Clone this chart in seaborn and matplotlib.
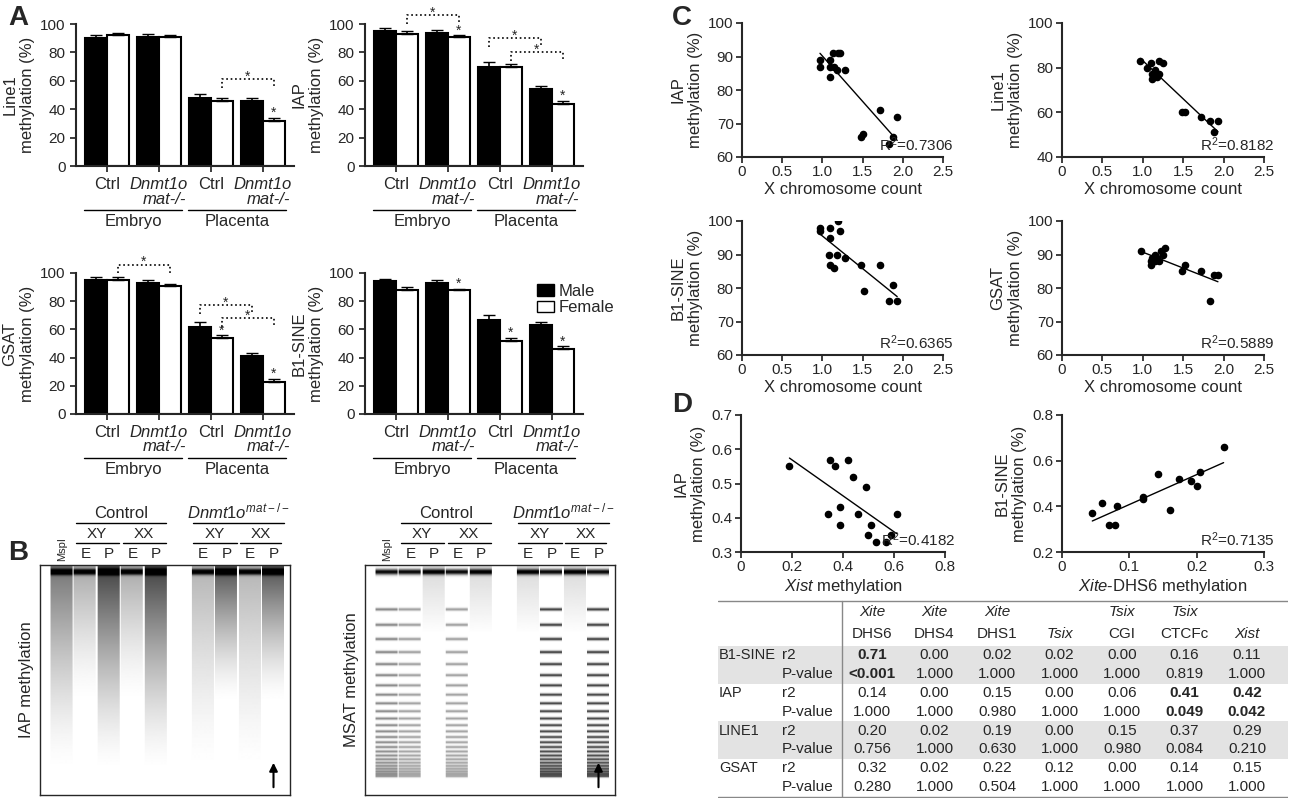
import numpy as np
import pandas as pd
import matplotlib
matplotlib.use("Agg")
import matplotlib.pyplot as plt
import seaborn as sns
from matplotlib.patches import Patch

sns.set_theme(style="ticks")
plt.rcParams['font.family'] = ['Liberation Sans', 'DejaVu Sans']
plt.rcParams['mathtext.fontset'] = 'custom'
plt.rcParams['mathtext.rm'] = 'Liberation Sans'
plt.rcParams['mathtext.it'] = 'Liberation Sans:italic'

W, H = 1293, 800
fig = plt.figure(figsize=(W/100, H/100), dpi=100)
FS = 11

def ax_px(x0, y0, x1, y1):
    return fig.add_axes([x0/W, 1-y1/H, (x1-x0)/W, (y1-y0)/H])

# ---------------- Panel A data ----------------
group_names = ["Ctrl", "Dnmt1o", "Ctrl", "Dnmt1o"]
line1_m = [90, 91, 48, 46]; line1_f = [92, 91, 46, 32]
iap_m = [95, 93.5, 70, 54]; iap_f = [93, 91, 69.5, 44]
gsat_m = [95, 93, 62, 41]; gsat_f = [95, 91, 54, 23]
b1_m = [94, 93, 67, 63]; b1_f = [88, 88, 52, 46]
err_m = [2, 2, 3, 2]; err_f = [2, 1, 2, 2]

def bar_panel(rect, title, m, f, stars, brackets):
    ax = ax_px(*rect)
    df = pd.DataFrame({"g": list(range(4))*2, "v": m+f,
                       "sex": ["Male"]*4+["Female"]*4})
    sns.barplot(data=df, x="g", y="v", hue="sex", palette=["black", "white"],
                edgecolor="black", linewidth=1.5, width=0.85, ax=ax, legend=False)
    for i in range(4):
        ax.errorbar(i-0.21, m[i], yerr=[[0], [err_m[i]]], color="black", capsize=4, lw=1.2)
        ax.errorbar(i+0.21, f[i], yerr=[[0], [err_f[i]]], color="black", capsize=4, lw=1.2)
    for i in stars:
        ax.text(i+0.21, f[i]+err_f[i]+0.5, "*", ha="center", fontsize=10)
    for (x0, x1, y) in brackets:
        ax.plot([x0, x0, x1, x1], [y-6, y, y, y-6], ls=":", color="black", lw=1.2, clip_on=False)
        ax.text((x0+x1)/2, y-1, "*", ha="center", fontsize=10)
    ax.set_ylim(0, 100); ax.set_xlim(-0.6, 3.6)
    ax.set_yticks([0, 20, 40, 60, 80, 100])
    ax.set_ylabel(title+"\nmethylation (%)", fontsize=FS+1)
    ax.set_xlabel("")
    ax.set_xticks(range(4))
    ax.set_xticklabels([])
    for i, g in enumerate(group_names):
        ax.text(i, -8, g, ha="center", va="top", fontsize=FS+1, style="italic" if g != "Ctrl" else "normal")
        if g != "Ctrl":
            ax.text(i+0.1, -18, "mat-/-", ha="center", va="top", fontsize=FS+1, style="italic")
    for xs, lab in [((-0.45, 1.45), "Embryo"), ((1.55, 3.45), "Placenta")]:
        ax.plot(xs, [-31, -31], color="black", lw=1, clip_on=False)
        ax.text(sum(xs)/2, -34, lab, ha="center", va="top", fontsize=FS+1)
    sns.despine(ax=ax)
    for s in ax.spines.values():
        s.set_linewidth(1.5)
    ax.tick_params(labelsize=FS, length=4)
    return ax

bar_panel((76, 24, 294, 166), "Line1", line1_m, line1_f, [3], [(2.21, 3.21, 61)])
bar_panel((365, 24, 583, 166), "IAP", iap_m, iap_f, [1, 3], [(0.21, 1.21, 106), (1.79, 2.79, 90), (2.21, 3.21, 80)])
bar_panel((76, 273, 294, 414), "GSAT", gsat_m, gsat_f, [2, 3], [(0.21, 1.21, 106), (1.79, 2.79, 77), (2.21, 3.21, 68)])
axb = bar_panel((365, 273, 583, 414), "B1-SINE", b1_m, b1_f, [1, 2, 3], [])
axb.legend(handles=[Patch(fc="black", ec="black", label="Male"), Patch(fc="white", ec="black", label="Female")],
           loc="upper left", bbox_to_anchor=(0.72, 1.03), frameon=False, fontsize=FS+1,
           handlelength=1.0, handletextpad=0.3, labelspacing=0.1)

fig.text(8/W, 1-25/H, "A", fontsize=20, fontweight="bold")
fig.text(8/W, 1-560/H, "B", fontsize=20, fontweight="bold")
fig.text(672/W, 1-25/H, "C", fontsize=20, fontweight="bold")
fig.text(672/W, 1-412/H, "D", fontsize=20, fontweight="bold")

# ---------------- Panel B gels ----------------
lane_labels = ["MspI", "E", "P", "E", "P", "", "E", "P", "E", "P"]
iap_smear = [0.55, 0.35, 0.75, 0.35, 0.75, 0, 0.3, 0.7, 0.3, 0.7]
msat_smear = [0.5, 0.4, 0.6, 0.4, 0.6, 0, 0.4, 0.8, 0.4, 0.8]

def gel(rect, smear, ladder, ylabel):
    ax = ax_px(*rect)
    ny, nx = 230, 250
    img = np.zeros((ny, nx))
    yy = np.linspace(0, 1, ny)
    lw_ = 22
    for i, s in enumerate(smear):
        if s == 0:
            continue
        cx = 22 + i*23.5
        top = np.exp(-((yy-0.03)/0.012)**2)
        prof = top + s*np.clip(1-yy/(0.9 if i % 2 == 0 else 0.6), 0, 1)**1.5
        if ladder and i % 2 == 0 and i > 0:
            prof = top*1.0 + 0.15*np.clip(1-yy/0.3, 0, 1)
        if ladder and (i % 2 == 1 or i == 0):
            k = np.arange(1, 26)
            pos = 0.12 + 0.8*(1-np.exp(-k/12))/(1-np.exp(-25/12))
            bands = sum(np.exp(-((yy-p)/0.006)**2) for p in pos)
            prof = top + s*bands*np.clip(1.1-yy*0.3, 0, 1)
        x0 = int(cx-lw_/2); x1 = int(cx+lw_/2)
        img[:, x0:x1] = np.maximum(img[:, x0:x1], prof[:, None])
    ax.imshow(1-np.clip(img, 0, 1), cmap="gray", vmin=0, vmax=1, aspect="auto")
    ax.set_xticks([]); ax.set_yticks([])
    for s in ax.spines.values():
        s.set_linewidth(1)
    ax.set_ylabel(ylabel, fontsize=FS+1)
    ax.annotate("", xy=(22+9*23.5, 195), xytext=(22+9*23.5, 225),
                arrowprops=dict(arrowstyle="-|>", color="black", lw=1.5))
    for i, l in enumerate(lane_labels):
        ax.text(22+i*23.5, -4, l, ha="center", va="bottom", fontsize=FS if l != "MspI" else 8,
                rotation=90 if l == "MspI" else 0)
    for xs, lab in [((1, 2), "XY"), ((3, 4), "XX"), ((6, 7), "XY"), ((8, 8.9), "XX")]:
        a, b = 22+xs[0]*23.5-10, 22+xs[1]*23.5+10
        ax.plot([a, b], [-22, -22], color="black", lw=1, clip_on=False)
        ax.text((a+b)/2, -24, lab, ha="center", va="bottom", fontsize=FS)
    ax.plot([22+23.5-10, 22+4*23.5+10], [-42, -42], color="black", lw=1, clip_on=False)
    ax.text(22+2.5*23.5, -44, "Control", ha="center", va="bottom", fontsize=FS+1)
    ax.plot([22+6*23.5-10, 22+9*23.5+10], [-42, -42], color="black", lw=1, clip_on=False)
    ax.text(22+7.5*23.5, -44, r"$\it{Dnmt1o}^{\it{mat-/-}}$", ha="center", va="bottom", fontsize=FS+1)
    ax.set_xlim(0, nx); ax.set_ylim(ny, 0)

gel((40, 565, 290, 795), iap_smear, False, "IAP methylation")
gel((365, 565, 615, 795), msat_smear, True, "MSAT methylation")

# ---------------- Panel C/D scatter ----------------
iap_x = [0.97, 0.97, 1.1, 1.1, 1.1, 1.13, 1.15, 1.18, 1.2, 1.22, 1.28, 1.48, 1.5, 1.72, 1.83, 1.88, 1.93]
iap_y = [89, 87, 89, 87, 84, 91, 87, 86, 91, 91, 86, 66, 67, 74, 64, 66, 72]
l1_x = [0.97, 1.05, 1.1, 1.12, 1.12, 1.15, 1.18, 1.2, 1.25, 1.2, 1.48, 1.52, 1.72, 1.83, 1.88, 1.93]
l1_y = [83, 80, 82, 77, 75, 79, 76, 83, 82, 77, 60, 60, 58, 56, 51, 56]
b1_x = [0.97, 0.97, 1.1, 1.1, 1.08, 1.1, 1.14, 1.18, 1.2, 1.22, 1.28, 1.48, 1.52, 1.72, 1.83, 1.88, 1.93]
b1_y = [98, 97, 98, 95, 90, 87, 86, 90, 100, 97, 89, 87, 79, 87, 76, 81, 76]
gs_x = [0.98, 1.1, 1.1, 1.12, 1.15, 1.18, 1.2, 1.22, 1.25, 1.28, 1.15, 1.48, 1.52, 1.72, 1.83, 1.88, 1.93]
gs_y = [91, 87, 88, 89, 90, 89, 88, 91, 90, 92, 88, 85, 87, 85, 76, 84, 84]
xist_x = [0.19, 0.34, 0.35, 0.37, 0.39, 0.39, 0.42, 0.44, 0.46, 0.49, 0.5, 0.51, 0.53, 0.57, 0.59, 0.61]
xist_y = [0.55, 0.41, 0.57, 0.55, 0.43, 0.38, 0.57, 0.52, 0.41, 0.49, 0.35, 0.38, 0.33, 0.33, 0.35, 0.41]
dhs_x = [0.045, 0.06, 0.07, 0.078, 0.082, 0.12, 0.12, 0.142, 0.16, 0.174, 0.192, 0.2, 0.205, 0.24]
dhs_y = [0.37, 0.415, 0.32, 0.32, 0.40, 0.44, 0.43, 0.54, 0.385, 0.52, 0.51, 0.49, 0.55, 0.66]

def scat(rect, x, y, ylab, xlab, r2, xlim, xt, xtl, ylim, yt):
    ax = ax_px(*rect)
    sns.regplot(x=np.array(x), y=np.array(y), ci=None, ax=ax, truncate=True,
                scatter_kws=dict(s=20, color="black", alpha=1), line_kws=dict(color="black", lw=1))
    ax.set_xlim(*xlim); ax.set_ylim(*ylim)
    ax.set_xticks(xt); ax.set_yticks(yt)
    ax.set_xticklabels(xtl)
    ax.set_ylabel(ylab, fontsize=FS+1)
    ax.set_xlabel(xlab, fontsize=FS+1, labelpad=2)
    ax.text(1.05, 0.02, r"R$^2$=" + r2, transform=ax.transAxes, ha="right", va="bottom", fontsize=FS)
    sns.despine(ax=ax)
    ax.tick_params(labelsize=FS, length=4, pad=2)
    for s in ax.spines.values():
        s.set_linewidth(1.5)
    return ax

xt = [0, 0.5, 1.0, 1.5, 2.0, 2.5]
xtl = ["0", "0.5", "1.0", "1.5", "2.0", "2.5"]
scat((742, 23, 943, 157), iap_x, iap_y, "IAP\nmethylation (%)", "X chromosome count", "0.7306", (0, 2.5), xt, xtl, (60, 100), [60, 70, 80, 90, 100])
scat((1062, 23, 1264, 157), l1_x, l1_y, "Line1\nmethylation (%)", "X chromosome count", "0.8182", (0, 2.5), xt, xtl, (40, 100), [40, 60, 80, 100])
scat((742, 221, 943, 355), b1_x, b1_y, "B1-SINE\nmethylation (%)", "X chromosome count", "0.6365", (0, 2.5), xt, xtl, (60, 100), [60, 70, 80, 90, 100])
scat((1062, 221, 1264, 355), gs_x, gs_y, "GSAT\nmethylation (%)", "X chromosome count", "0.5889", (0, 2.5), xt, xtl, (60, 100), [60, 70, 80, 90, 100])
scat((741, 415, 945, 552), xist_x, xist_y, "IAP\nmethylation (%)", r"$\it{Xist}$ methylation", "0.4182", (0, 0.8), [0, 0.2, 0.4, 0.6, 0.8], ["0", "0.2", "0.4", "0.6", "0.8"], (0.3, 0.7), [0.3, 0.4, 0.5, 0.6, 0.7])
scat((1062, 415, 1264, 552), dhs_x, dhs_y, "B1-SINE\nmethylation (%)", r"$\it{Xite}$-DHS6 methylation", "0.7135", (0, 0.3), [0, 0.1, 0.2, 0.3], ["0", "0.1", "0.2", "0.3"], (0.2, 0.8), [0.2, 0.4, 0.6, 0.8])

# ---------------- Table ----------------
col_top = ["Xite", "Xite", "Xite", "", "Tsix", "Tsix", ""]
col_bot = ["DHS6", "DHS4", "DHS1", "Tsix", "CGI", "CTCFc", "Xist"]
row_names = ["B1-SINE", "IAP", "LINE1", "GSAT"]
r2_vals = [["0.71", "0.00", "0.02", "0.02", "0.00", "0.16", "0.11"],
           ["0.14", "0.00", "0.15", "0.00", "0.06", "0.41", "0.42"],
           ["0.20", "0.02", "0.19", "0.00", "0.15", "0.37", "0.29"],
           ["0.32", "0.02", "0.22", "0.12", "0.00", "0.14", "0.15"]]
p_vals = [["<0.001", "1.000", "1.000", "1.000", "1.000", "0.819", "1.000"],
          ["1.000", "1.000", "0.980", "1.000", "1.000", "0.049", "0.042"],
          ["0.756", "1.000", "0.630", "1.000", "0.980", "0.084", "0.210"],
          ["0.280", "1.000", "0.504", "1.000", "1.000", "1.000", "1.000"]]
bold = {(0, 0), (1, 5), (1, 6)}

axt = ax_px(718, 600, 1288, 798)
axt.set_xlim(718, 1288); axt.set_ylim(798, 600); axt.axis("off")
hdr_h = 45; rh = 18.8
col_x = [872 + i*62.5 for i in range(7)]
y_top = 601
for j in range(7):
    if col_top[j]:
        axt.text(col_x[j], 612, col_top[j], ha="center", va="center", style="italic", fontsize=FS)
    axt.text(col_x[j], 634, col_bot[j], ha="center", va="center", fontsize=FS,
             style="italic" if col_bot[j] in ("Tsix", "Xist") else "normal")
for i, rn in enumerate(row_names):
    y0 = y_top + hdr_h + i*2*rh
    if i % 2 == 0:
        axt.add_patch(plt.Rectangle((718, y0), 570, 2*rh, color="#e3e3e3", lw=0))
    axt.text(719, y0+rh/2, rn, va="center", fontsize=FS-0.5)
    axt.text(782, y0+rh/2, "r2", va="center", fontsize=FS)
    axt.text(782, y0+1.5*rh, "P-value", va="center", fontsize=FS)
    for j in range(7):
        w = "bold" if (i, j) in bold else "normal"
        axt.text(col_x[j], y0+rh/2, r2_vals[i][j], ha="center", va="center", fontsize=FS, fontweight=w)
        axt.text(col_x[j], y0+1.5*rh, p_vals[i][j], ha="center", va="center", fontsize=FS, fontweight=w)
axt.plot([718, 1288], [y_top, y_top], color="#888888", lw=1)
axt.plot([842, 842], [y_top, 797], color="#888888", lw=1)
axt.plot([718, 1288], [797, 797], color="#888888", lw=1)

fig.savefig("out.png", dpi=100)
